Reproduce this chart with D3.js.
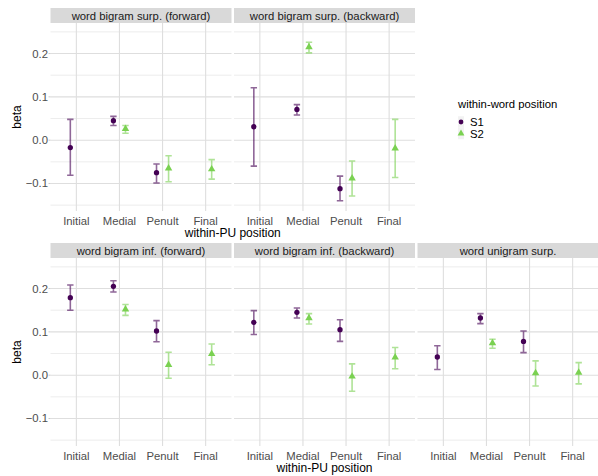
<!DOCTYPE html>
<html>
<head>
<meta charset="utf-8">
<script src="https://cdn.jsdelivr.net/npm/d3@7"></script>
<style>
  body { margin: 0; background: #fff; }
  svg { display: block; font-family: "Liberation Sans", Arial, sans-serif; }
</style>
</head>
<body>
<div id="chart"></div>
<script>
// categories and series
const positions = ["Initial", "Medial", "Penult", "Final"];
const seriesNames = ["S1", "S2"];
const panelTitles = [
  "word bigram surp. (forward)",
  "word bigram surp. (backward)",
  "word bigram inf. (forward)",
  "word bigram inf. (backward)",
  "word unigram surp."
];
const yTicks = [-0.1, 0.0, 0.1, 0.2];
const yMinor = [-0.15, -0.05, 0.05, 0.15, 0.25];

// estimates and intervals per panel (null = no estimate)
const s1Est = [
  [-0.017, 0.045, -0.075, null],
  [0.031, 0.071, -0.112, null],
  [0.179, 0.205, 0.102, null],
  [0.122, 0.145, 0.105, null],
  [0.042, 0.132, 0.078, null]
];
const s1Lo = [
  [-0.081, 0.034, -0.099, null],
  [-0.060, 0.058, -0.140, null],
  [0.150, 0.192, 0.077, null],
  [0.094, 0.132, 0.078, null],
  [0.013, 0.119, 0.052, null]
];
const s1Hi = [
  [0.048, 0.055, -0.055, null],
  [0.121, 0.082, -0.083, null],
  [0.208, 0.218, 0.126, null],
  [0.149, 0.155, 0.128, null],
  [0.068, 0.142, 0.102, null]
];
const s2Est = [
  [null, 0.026, -0.065, -0.067],
  [null, 0.215, -0.088, -0.019],
  [null, 0.152, 0.024, 0.049],
  [null, 0.132, -0.003, 0.041],
  [null, 0.074, 0.005, 0.006]
];
const s2Lo = [
  [null, 0.016, -0.096, -0.090],
  [null, 0.2015, -0.129, -0.086],
  [null, 0.138, -0.007, 0.024],
  [null, 0.118, -0.037, 0.015],
  [null, 0.062, -0.025, -0.020]
];
const s2Hi = [
  [null, 0.034, -0.036, -0.045],
  [null, 0.226, -0.048, 0.048],
  [null, 0.163, 0.053, 0.072],
  [null, 0.142, 0.026, 0.064],
  [null, 0.083, 0.033, 0.029]
];

const colors = { S1: "#440154", S2: "#7AD151" };

const W = 598, H = 476;
const panelW = 181, panelH = 188, stripH = 15;
const colX = [50.5, 234, 417.5];
const rows = [
  { top: 23, panels: [0, 1], titleX: (50.5 + 415) / 2 },
  { top: 258, panels: [2, 3, 4], titleX: (50.5 + 598.5) / 2 }
];

const svg = d3.select("#chart").append("svg")
  .attr("width", W).attr("height", H);

const x = d3.scalePoint().domain(positions).range([0, panelW]).padding(0.6);
const dodge = x.step() * 0.14;

const y = d3.scaleLinear().domain([-0.1635, 0.2705]).range([panelH, 0]);

const fmt = d3.format(".1f");

function pointsFor(p) {
  const out = [];
  positions.forEach((pos, i) => {
    if (s1Est[p][i] != null) out.push({ pos, s: "S1", est: s1Est[p][i], lo: s1Lo[p][i], hi: s1Hi[p][i], off: -dodge });
    if (s2Est[p][i] != null) out.push({ pos, s: "S2", est: s2Est[p][i], lo: s2Lo[p][i], hi: s2Hi[p][i], off: dodge });
  });
  return out;
}

rows.forEach(row => {
  row.panels.forEach((p, ci) => {
    const g = svg.append("g")
      .attr("transform", `translate(${colX[ci]},${row.top})`);

    // strip
    g.append("rect")
      .attr("x", 0).attr("y", -stripH)
      .attr("width", panelW).attr("height", stripH)
      .attr("fill", "#d9d9d9");
    g.append("text")
      .attr("x", panelW / 2).attr("y", -stripH / 2 + 4)
      .attr("text-anchor", "middle")
      .style("font-size", "11.3px")
      .style("fill", "#1a1a1a")
      .text(panelTitles[p]);

    // grid
    g.selectAll(".minor").data(yMinor).enter().append("line")
      .attr("x1", 0).attr("x2", panelW)
      .attr("y1", d => y(d)).attr("y2", d => y(d))
      .attr("stroke", "#ebebeb").attr("stroke-width", 0.9);
    g.selectAll(".major").data(yTicks).enter().append("line")
      .attr("x1", 0).attr("x2", panelW)
      .attr("y1", d => y(d)).attr("y2", d => y(d))
      .attr("stroke", "#dedede").attr("stroke-width", 1.1);
    g.selectAll(".vgrid").data(positions).enter().append("line")
      .attr("x1", d => x(d)).attr("x2", d => x(d))
      .attr("y1", 0).attr("y2", panelH)
      .attr("stroke", "#dedede").attr("stroke-width", 1.1);

    // x tick labels
    g.selectAll(".xlab").data(positions).enter().append("text")
      .attr("x", d => x(d)).attr("y", panelH + 13.5)
      .attr("text-anchor", "middle")
      .style("font-size", "11.3px")
      .style("fill", "#4d4d4d")
      .text(d => d);

    // y axis on first column only
    if (ci === 0) {
      g.selectAll(".ylab").data(yTicks).enter().append("text")
        .attr("x", -2.5).attr("y", d => y(d) + 4)
        .attr("text-anchor", "end")
        .style("font-size", "11.3px")
        .style("fill", "#4d4d4d")
        .text(d => fmt(d));
      g.selectAll(".ytick").data(yTicks).enter().append("line")
        .attr("x1", -2).attr("x2", 0)
        .attr("y1", d => y(d)).attr("y2", d => y(d))
        .attr("stroke", "#cccccc").attr("stroke-width", 1);
    }

    const data = pointsFor(p);

    // error bars
    const eb = g.selectAll(".eb").data(data).enter().append("g")
      .attr("stroke", d => colors[d.s])
      .attr("stroke-opacity", 0.6)
      .attr("stroke-width", 1.6)
      .attr("fill", "none");
    eb.append("path")
      .attr("d", d => {
        const cx = x(d.pos) + d.off, w = 3.2;
        return `M${cx - w},${y(d.hi)}H${cx + w}M${cx},${y(d.hi)}V${y(d.lo)}M${cx - w},${y(d.lo)}H${cx + w}`;
      });

    // points
    g.selectAll(".pt").data(data).enter().append("path")
      .attr("transform", d => `translate(${x(d.pos) + d.off},${y(d.est)})`)
      .attr("d", d => d3.symbol()
        .type(d.s === "S1" ? d3.symbolCircle : d3.symbolTriangle)
        .size(d.s === "S1" ? 22 : 24)())
      .attr("fill", d => colors[d.s]);
  });

  // y title
  svg.append("text")
    .attr("transform", `translate(21,${row.top + panelH / 2}) rotate(-90)`)
    .attr("text-anchor", "middle")
    .style("font-size", "12px")
    .style("fill", "#000")
    .text("beta");

  // x title
  svg.append("text")
    .attr("x", row.titleX).attr("y", row.top + panelH + 26)
    .attr("text-anchor", "middle")
    .style("font-size", "12px")
    .style("fill", "#000")
    .text("within-PU position");
});

// legend
const legend = svg.append("g").attr("transform", "translate(458,0)");
legend.append("text")
  .attr("x", 0).attr("y", 108)
  .style("font-size", "11.3px")
  .style("fill", "#000")
  .text("within-word position");
seriesNames.forEach((s, i) => {
  const cy = 122 + i * 11.5;
  legend.append("rect")
    .attr("x", 0).attr("y", cy - 5.75)
    .attr("width", 6).attr("height", 11.5)
    .attr("fill", "#f2f2f2");
  legend.append("path")
    .attr("transform", `translate(3,${cy})`)
    .attr("d", d3.symbol()
      .type(s === "S1" ? d3.symbolCircle : d3.symbolTriangle)
      .size(s === "S1" ? 18 : 20)())
    .attr("fill", colors[s]);
  legend.append("text")
    .attr("x", 12).attr("y", cy + 4)
    .style("font-size", "11.3px")
    .style("fill", "#000")
    .text(s);
});
</script>
</body>
</html>
